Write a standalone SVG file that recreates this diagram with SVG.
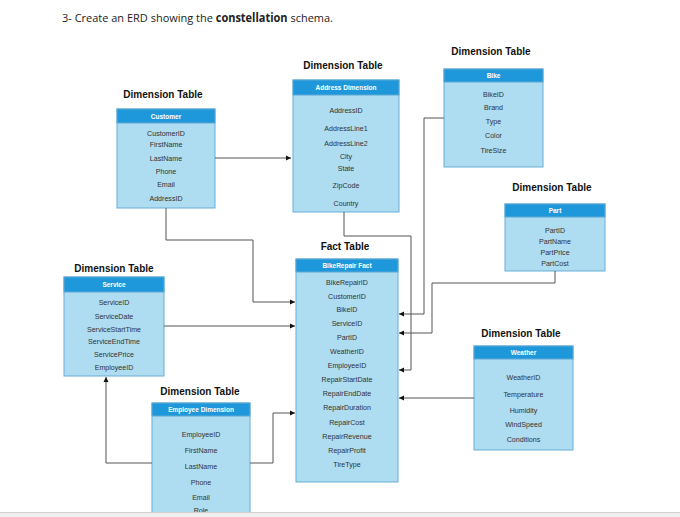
<svg xmlns="http://www.w3.org/2000/svg" width="680" height="517" viewBox="0 0 680 517">
<style>
.bg{fill:#ffffff}
.lbl{font-family:"Liberation Sans",Arial,sans-serif;font-size:10px;font-weight:bold;fill:#111;text-anchor:middle}
.hd{fill:#1e98da;stroke:#5fa8d3;stroke-width:1}
.bd{fill:#aedcf1;stroke:#6aaed6;stroke-width:1}
.ht{font-family:"Liberation Sans",Arial,sans-serif;font-size:6.5px;font-weight:bold;fill:#ffffff;text-anchor:middle}
.rt{font-family:"Liberation Sans",Arial,sans-serif;font-size:7.1px;fill:#333;text-anchor:middle}
.cn{fill:none;stroke:#555;stroke-width:1}
.title{font-family:"Open Sans","Liberation Sans",Arial,sans-serif;font-size:11.5px;fill:#222}
</style>
<defs>
<marker id="ar" markerWidth="6" markerHeight="6" refX="5" refY="3" orient="auto" markerUnits="userSpaceOnUse">
<path d="M0,0.5 L5,3 L0,5.5 z" fill="#111"/>
</marker>
</defs>
<rect class="bg" x="0" y="0" width="680" height="517"/>
<text class="title" x="62" y="22" textLength="271" lengthAdjust="spacingAndGlyphs">3- Create an ERD showing the <tspan font-weight="bold">constellation</tspan> schema.</text>

<g id="customer">
<text class="lbl" x="163" y="98">Dimension Table</text>
<rect class="bd" x="117" y="109" width="98" height="99"/>
<rect class="hd" x="117" y="109" width="98" height="14"/>
<text class="ht" x="166" y="118.5">Customer</text>
<text class="rt" x="166" y="135.5">CustomerID</text>
<text class="rt" x="166" y="146.5">FirstName</text>
<text class="rt" x="166" y="160.5">LastName</text>
<text class="rt" x="166" y="173.5">Phone</text>
<text class="rt" x="166" y="186.5">Email</text>
<text class="rt" x="166" y="200.5">AddressID</text>
</g>

<g id="address">
<text class="lbl" x="343" y="69">Dimension Table</text>
<rect class="bd" x="293" y="80" width="106" height="132"/>
<rect class="hd" x="293" y="80" width="106" height="15"/>
<text class="ht" x="346" y="90">Address Dimension</text>
<text class="rt" x="346" y="112.5">AddressID</text>
<text class="rt" x="346" y="130.5">AddressLine1</text>
<text class="rt" x="346" y="145.5">AddressLine2</text>
<text class="rt" x="346" y="158.5">City</text>
<text class="rt" x="346" y="170.5">State</text>
<text class="rt" x="346" y="187.5">ZipCode</text>
<text class="rt" x="346" y="205.5">Country</text>
</g>

<g id="bike">
<text class="lbl" x="491" y="55">Dimension Table</text>
<rect class="bd" x="444" y="69" width="99" height="98"/>
<rect class="hd" x="444" y="69" width="99" height="13"/>
<text class="ht" x="493.5" y="78">Bike</text>
<text class="rt" x="493.5" y="96.5">BikeID</text>
<text class="rt" x="493.5" y="109.5">Brand</text>
<text class="rt" x="493.5" y="123.5">Type</text>
<text class="rt" x="493.5" y="137.5">Color</text>
<text class="rt" x="493.5" y="152.5">TireSize</text>
</g>

<g id="part">
<text class="lbl" x="552" y="191">Dimension Table</text>
<rect class="bd" x="505" y="204" width="100" height="67"/>
<rect class="hd" x="505" y="204" width="100" height="13"/>
<text class="ht" x="555" y="213">Part</text>
<text class="rt" x="555" y="232.5">PartID</text>
<text class="rt" x="555" y="243.5">PartName</text>
<text class="rt" x="555" y="254.5">PartPrice</text>
<text class="rt" x="555" y="265.5">PartCost</text>
</g>

<g id="service">
<text class="lbl" x="114" y="272">Dimension Table</text>
<rect class="bd" x="64" y="277" width="100" height="99"/>
<rect class="hd" x="64" y="277" width="100" height="15"/>
<text class="ht" x="114" y="287">Service</text>
<text class="rt" x="114" y="304.5">ServiceID</text>
<text class="rt" x="114" y="318.5">ServiceDate</text>
<text class="rt" x="114" y="331.5">ServiceStartTime</text>
<text class="rt" x="114" y="343.5">ServiceEndTime</text>
<text class="rt" x="114" y="356.5">ServicePrice</text>
<text class="rt" x="114" y="369.5">EmployeeID</text>
</g>

<g id="fact">
<text class="lbl" x="345" y="250">Fact Table</text>
<rect class="bd" x="296" y="259" width="102" height="223"/>
<rect class="hd" x="296" y="259" width="102" height="13"/>
<text class="ht" x="347" y="268">BikeRepair Fact</text>
<text class="rt" x="347" y="284.5">BikeRepairID</text>
<text class="rt" x="347" y="298.5">CustomerID</text>
<text class="rt" x="347" y="311.5">BikeID</text>
<text class="rt" x="347" y="325.5">ServiceID</text>
<text class="rt" x="347" y="339.5">PartID</text>
<text class="rt" x="347" y="353.5">WeatherID</text>
<text class="rt" x="347" y="367.5">EmployeeID</text>
<text class="rt" x="347" y="381.5">RepairStartDate</text>
<text class="rt" x="347" y="395.5">RepairEndDate</text>
<text class="rt" x="347" y="409.5">RepairDuration</text>
<text class="rt" x="347" y="424.5">RepairCost</text>
<text class="rt" x="347" y="438.5">RepairRevenue</text>
<text class="rt" x="347" y="452.5">RepairProfit</text>
<text class="rt" x="347" y="466.5">TireType</text>
</g>

<g id="weather">
<text class="lbl" x="521" y="337">Dimension Table</text>
<rect class="bd" x="474" y="346" width="99" height="104"/>
<rect class="hd" x="474" y="346" width="99" height="13"/>
<text class="ht" x="523.5" y="355">Weather</text>
<text class="rt" x="523.5" y="379.5">WeatherID</text>
<text class="rt" x="523.5" y="396.5">Temperature</text>
<text class="rt" x="523.5" y="412.5">Humidity</text>
<text class="rt" x="523.5" y="426.5">WindSpeed</text>
<text class="rt" x="523.5" y="441.5">Conditions</text>
</g>

<g id="employee">
<text class="lbl" x="200" y="395">Dimension Table</text>
<rect class="bd" x="152" y="403" width="98" height="120"/>
<rect class="hd" x="152" y="403" width="98" height="13"/>
<text class="ht" x="201" y="412">Employee Dimension</text>
<text class="rt" x="201" y="436.5">EmployeeID</text>
<text class="rt" x="201" y="452.5">FirstName</text>
<text class="rt" x="201" y="468.5">LastName</text>
<text class="rt" x="201" y="484.5">Phone</text>
<text class="rt" x="201" y="499.5">Email</text>
<text class="rt" x="201" y="512.5">Role</text>
</g>

<g id="connectors">
<path class="cn" d="M215,158 H291" marker-end="url(#ar)"/>
<path class="cn" d="M166,208 V240 H253 V302 H295" marker-end="url(#ar)"/>
<path class="cn" d="M164,326 H295" marker-end="url(#ar)"/>
<path class="cn" d="M344,212 V236 H411 V370 H399" marker-end="url(#ar)"/>
<path class="cn" d="M444,118 H424 V314 H399" marker-end="url(#ar)"/>
<path class="cn" d="M555,271 V283 H432 V333 H399" marker-end="url(#ar)"/>
<path class="cn" d="M474,398 H399" marker-end="url(#ar)"/>
<path class="cn" d="M152,463 H106 V377" marker-end="url(#ar)"/>
<path class="cn" d="M250,463 H273 V413 H295" marker-end="url(#ar)"/>
</g>

<rect x="0" y="512" width="680" height="5" fill="#f0f0f0"/>
<line x1="0" y1="512.5" x2="680" y2="512.5" stroke="#cfcfcf" stroke-width="1"/>
</svg>
